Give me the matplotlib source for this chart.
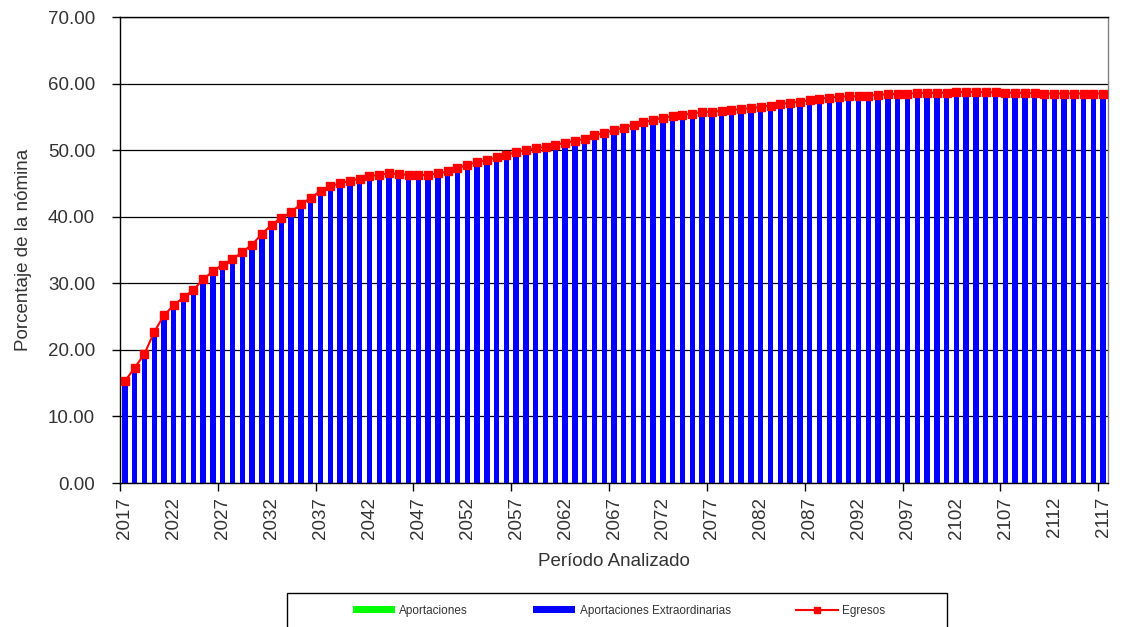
import numpy as np
import matplotlib
matplotlib.use("Agg")
import matplotlib.pyplot as plt
from matplotlib.lines import Line2D
from matplotlib.patches import Patch, Rectangle

# años del período analizado
anios = list(range(2017, 2118))

# egresos (% de la nómina)
egresos = [
    15.3, 17.3, 19.4, 22.7, 25.2, 26.7, 27.9, 29.0, 30.6, 31.8,
    32.8, 33.6, 34.7, 35.8, 37.4, 38.8, 39.8, 40.7, 41.9, 42.8,
    43.9, 44.6, 45.0, 45.4, 45.7, 46.1, 46.3, 46.5, 46.4, 46.3,
    46.2, 46.3, 46.5, 46.8, 47.3, 47.8, 48.2, 48.5, 48.9, 49.3,
    49.7, 50.0, 50.3, 50.5, 50.8, 51.1, 51.4, 51.7, 52.2, 52.6,
    53.0, 53.4, 53.8, 54.2, 54.5, 54.9, 55.1, 55.3, 55.5, 55.7,
    55.8, 55.9, 56.0, 56.2, 56.3, 56.5, 56.7, 56.9, 57.1, 57.3,
    57.5, 57.7, 57.9, 58.0, 58.1, 58.1, 58.2, 58.3, 58.4, 58.45,
    58.5, 58.55, 58.6, 58.6, 58.65, 58.7, 58.75, 58.75, 58.7, 58.7,
    58.65, 58.6, 58.6, 58.55, 58.5, 58.5, 58.5, 58.5, 58.5, 58.5,
    58.5,
]

# aportaciones ordinarias: no se ven en el gráfico (cero)
aportaciones = [0.0] * len(anios)
# las aportaciones extraordinarias llegan hasta la línea de egresos
extraordinarias = list(egresos)

etiquetas_x = [str(a) for a in anios[::5]]

TEXT = "#333333"
plt.rcParams["font.family"] = ["Liberation Sans", "DejaVu Sans"]


def main():
    fig = plt.figure(figsize=(11.22, 6.27), dpi=100)
    ax = fig.add_axes([120 / 1122, 1 - 483 / 627, 988 / 1122, 466 / 627])

    x = np.arange(len(anios))
    ax.bar(x, aportaciones, width=0.55, color="#00FF00", zorder=2)
    ax.bar(x, extraordinarias, width=0.55, bottom=aportaciones,
           color="#0000FF", zorder=2)
    ax.plot(x, egresos, color="#FF0000", lw=1.5, marker="s",
            markersize=5.5, zorder=3)

    ax.set_xlim(-0.5, len(anios) - 0.5)
    ax.set_ylim(0, 70)
    ax.set_yticks(np.arange(0, 71, 10))
    ax.set_yticklabels([f"{v:.2f}" for v in np.arange(0, 71, 10)],
                       fontsize=13.5, color=TEXT)
    ax.yaxis.grid(True, color="black", lw=0.9, zorder=1)
    ax.set_axisbelow(True)

    # marcas cada 10 años, etiquetas cada 5
    ax.set_xticks(np.arange(-0.5, len(anios), 10))
    ax.set_xticklabels([])
    ax.set_xticks(x[::5], minor=True)
    ax.set_xticklabels(etiquetas_x, minor=True, rotation=90,
                       fontsize=13.5, color=TEXT)
    ax.tick_params(axis="x", which="major", length=6, width=1, color="black")
    ax.tick_params(axis="x", which="minor", length=0, pad=10)
    ax.tick_params(axis="y", length=6, width=1, pad=12)

    for s in ax.spines.values():
        s.set_color("black")
        s.set_linewidth(1)
    ax.spines["right"].set_color("#808080")

    ax.set_xlabel("Período Analizado", fontsize=13.5, color=TEXT, labelpad=10)
    ax.set_ylabel("Porcentaje de la nómina", fontsize=13.5, color=TEXT,
                  labelpad=11)

    # recuadro de la leyenda (cortado abajo como en el original)
    fig.patches.append(Rectangle((287 / 1122, -0.05), 660 / 1122,
                                 0.05 + 1 - 593 / 627,
                                 transform=fig.transFigure, fill=False,
                                 edgecolor="black", lw=1))
    handles = [
        Patch(facecolor="#00FF00", edgecolor="none"),
        Patch(facecolor="#0000FF", edgecolor="none"),
        Line2D([], [], color="#FF0000", lw=1.5, marker="s", markersize=5),
    ]
    labels = ["Aportaciones", "Aportaciones Extraordinarias", "Egresos"]
    fig.legend(handles, labels, loc="center left",
               bbox_to_anchor=(342 / 1122, 1 - 611 / 627), ncol=3,
               frameon=False, fontsize=8.5, handlelength=3.6, handleheight=0.5,
               handletextpad=0.35, columnspacing=5.5,
               labelcolor=TEXT)

    fig.savefig("out.png", dpi=100)


if __name__ == "__main__":
    main()
